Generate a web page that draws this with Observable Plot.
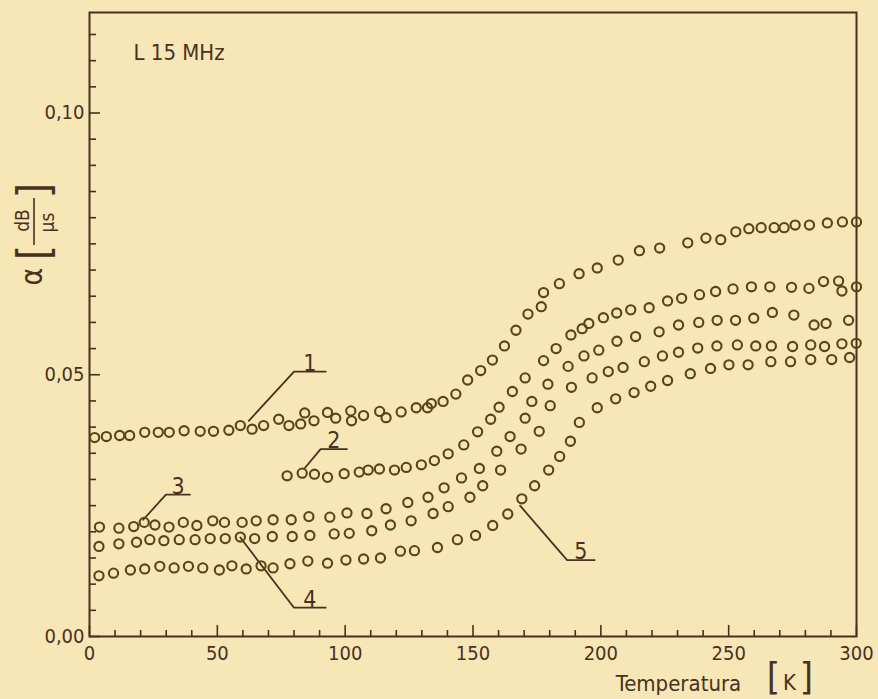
<!DOCTYPE html>
<html><head><meta charset="utf-8">
<script src="https://cdn.jsdelivr.net/npm/d3@7"></script>
<script src="https://cdn.jsdelivr.net/npm/@observablehq/plot@0.6"></script>
<style>
html,body{margin:0;padding:0;background:#f7e7b6;}
#chart svg{display:block;}
</style></head><body><div id="chart"></div>
<script>
// ---- data (temperature in K, attenuation alpha in dB/µs) ----
const s1T = [2.0,6.6,11.8,15.7,21.6,26.9,31.2,37.0,43.3,48.5,54.5,59.0,63.6,68.1,74.0,78.0,82.6,84.2,87.8,93.1,96.3,102.2,102.5,107.2,113.5,116.0,121.9,127.8,132.2,133.7,138.3,143.3,147.9,153.0,157.6,162.3,166.8,171.5,176.7,177.6,183.8,191.5,198.6,206.8,215.1,223.0,234.0,241.1,246.9,252.8,257.9,262.7,267.8,271.7,276.0,281.6,288.6,294.5,300.0];
const s1V = [0.0380,0.0382,0.0384,0.0384,0.0390,0.0390,0.0390,0.0393,0.0392,0.0392,0.0394,0.0403,0.0396,0.0403,0.0415,0.0403,0.0406,0.0427,0.0412,0.0428,0.0417,0.0431,0.0412,0.0422,0.0430,0.0418,0.0429,0.0437,0.0437,0.0445,0.0449,0.0463,0.0490,0.0508,0.0528,0.0555,0.0585,0.0616,0.0630,0.0657,0.0674,0.0693,0.0704,0.0719,0.0737,0.0742,0.0752,0.0761,0.0758,0.0773,0.0779,0.0781,0.0781,0.0781,0.0786,0.0786,0.0790,0.0792,0.0792];
const s2T = [77.3,83.2,88.0,93.1,99.6,105.5,109.0,113.4,119.3,123.9,129.8,134.9,140.3,146.4,151.8,156.9,160.2,165.4,170.4,177.6,182.5,188.3,192.7,195.3,201.0,206.2,211.7,218.9,226.1,231.6,238.6,244.9,251.7,258.9,266.1,274.6,281.4,287.1,293.0,294.3,300.0];
const s2V = [0.0307,0.0312,0.0310,0.0304,0.0311,0.0314,0.0318,0.0320,0.0318,0.0323,0.0328,0.0336,0.0349,0.0366,0.0391,0.0415,0.0438,0.0468,0.0494,0.0527,0.0550,0.0576,0.0588,0.0598,0.0609,0.0618,0.0624,0.0628,0.0641,0.0646,0.0653,0.0659,0.0664,0.0668,0.0668,0.0667,0.0665,0.0678,0.0679,0.0660,0.0668];
const s3T = [3.9,11.5,17.3,21.4,25.6,31.1,36.7,42.0,48.2,52.8,59.7,65.2,71.8,78.9,85.8,94.0,100.7,108.5,116.0,124.5,132.4,138.7,145.5,152.5,159.3,164.5,170.4,173.0,179.3,187.2,193.4,199.2,206.3,213.6,222.8,230.4,238.3,245.5,252.7,259.8,267.1,275.5,283.4,288.1,296.9];
const s3V = [0.0209,0.0207,0.0210,0.0218,0.0213,0.0209,0.0218,0.0212,0.0221,0.0218,0.0218,0.0221,0.0223,0.0223,0.0229,0.0228,0.0236,0.0235,0.0244,0.0256,0.0266,0.0284,0.0303,0.0321,0.0354,0.0382,0.0417,0.0449,0.0482,0.0516,0.0536,0.0547,0.0564,0.0573,0.0582,0.0595,0.0600,0.0604,0.0604,0.0608,0.0619,0.0614,0.0595,0.0598,0.0604];
const s4T = [3.7,11.5,18.4,23.6,29.1,35.1,41.3,47.2,53.1,59.0,64.6,71.5,79.3,86.2,95.7,101.6,110.4,117.7,125.8,134.4,140.3,148.8,153.8,160.8,168.8,175.9,180.2,188.5,196.6,202.9,208.7,217.0,224.1,230.4,237.9,245.4,253.4,260.6,266.7,275.0,282.1,287.5,294.3,299.9];
const s4V = [0.0172,0.0177,0.0180,0.0185,0.0183,0.0185,0.0185,0.0187,0.0187,0.0190,0.0187,0.0191,0.0191,0.0193,0.0196,0.0197,0.0202,0.0213,0.0221,0.0235,0.0248,0.0266,0.0288,0.0318,0.0358,0.0392,0.0441,0.0476,0.0494,0.0506,0.0514,0.0525,0.0536,0.0543,0.0551,0.0555,0.0557,0.0555,0.0555,0.0554,0.0557,0.0554,0.0559,0.0560];
const s5T = [3.7,9.4,16.0,21.6,27.5,33.1,38.7,44.3,50.8,55.7,61.3,67.1,71.8,78.4,85.4,93.1,100.3,107.2,113.8,121.6,127.1,136.1,143.9,151.0,157.7,163.6,169.1,174.1,179.6,183.9,188.1,191.6,198.6,205.8,213.0,219.5,226.1,235.0,242.9,250.1,257.6,266.5,274.2,282.1,290.3,297.3];
const s5V = [0.0116,0.0121,0.0127,0.0129,0.0134,0.0131,0.0134,0.0131,0.0127,0.0135,0.0129,0.0135,0.0131,0.0139,0.0144,0.0140,0.0146,0.0148,0.0150,0.0163,0.0164,0.0170,0.0185,0.0193,0.0212,0.0234,0.0263,0.0288,0.0318,0.0344,0.0373,0.0409,0.0437,0.0454,0.0466,0.0478,0.0489,0.0502,0.0512,0.0519,0.0519,0.0525,0.0525,0.0529,0.0529,0.0533];

// ---- curve labels: leader start (on curve), corner, end of underline ----
const labelNames   = ["1","2","3","4","5"];
const labelStartT  = [62.3, 83.9, 21.0, 59.0, 168.4];
const labelStartV  = [0.0412, 0.0320, 0.0223, 0.0189, 0.0250];
const labelCornerT = [80.0, 90.4, 29.9, 80.0, 186.8];
const labelCornerV = [0.0506, 0.0358, 0.0271, 0.0055, 0.0146];
const labelEndT    = [92.4, 100.7, 39.3, 92.4, 197.6];

// ---- ticks ----
const xMajorTicks = [0, 50, 100, 150, 200, 250, 300];
const xMinorTicks = [10,20,30,40,60,70,80,90,110,120,130,140,160,170,180,190,210,220,230,240,260,270,280,290];
const yMajorTicks = [0, 0.05, 0.10];
const yMinorTicks = [0.005,0.010,0.015,0.020,0.025,0.030,0.035,0.040,0.045,0.055,0.060,0.065,0.070,0.075,0.080,0.085,0.090,0.095,0.105,0.110,0.115];

const titleText = "L 15 MHz";
const xTitle = "Temperatura";
const xUnit = "K";

// ---- build tables ----
const seriesT = [s1T, s2T, s3T, s4T, s5T];
const seriesV = [s1V, s2V, s3V, s4V, s5V];
const points = [];
seriesT.forEach((ts, i) => ts.forEach((t, j) => points.push({series: labelNames[i], T: t, a: seriesV[i][j]})));
const leaders = [];
const labelPos = [];
labelNames.forEach((n, i) => {
  leaders.push({id: n, T: labelStartT[i], a: labelStartV[i]});
  leaders.push({id: n, T: labelCornerT[i], a: labelCornerV[i]});
  leaders.push({id: n, T: labelEndT[i], a: labelCornerV[i]});
  labelPos.push({id: n, T: (labelCornerT[i] + labelEndT[i]) / 2, a: labelCornerV[i]});
});

const W = 878, H = 699;
const mL = 89, mR = 22, mT = 12, mB = 63;
const fW = W - mL - mR, fH = H - mT - mB;
const ink = "#4a3020";
const dotInk = "#5a4416";
const font = "'DejaVu Sans Condensed', 'DejaVu Sans', sans-serif";

const chart = Plot.plot({
  width: W, height: H,
  marginLeft: mL, marginRight: mR, marginTop: mT, marginBottom: mB,
  x: {domain: [0, 300]},
  y: {domain: [0, 0.1192]},
  style: {background: "#f7e7b6", color: ink, fontFamily: font, fontSize: "19px"},
  marks: [
    Plot.frame({stroke: ink, strokeWidth: 2}),
    Plot.ruleX(xMinorTicks, {x: d => d, insetTop: fH - 6, stroke: ink, strokeWidth: 1.6}),
    Plot.ruleX(xMajorTicks, {x: d => d, insetTop: fH - 11, stroke: ink, strokeWidth: 1.6}),
    Plot.ruleY(yMinorTicks, {y: d => d, insetRight: fW - 7, stroke: ink, strokeWidth: 1.6}),
    Plot.ruleY(yMajorTicks, {y: d => d, insetRight: fW - 11, stroke: ink, strokeWidth: 1.6}),
    Plot.axisX({ticks: xMajorTicks, tickSize: 0, tickPadding: 9, label: null, fontSize: 20, fill: ink}),
    Plot.axisY({ticks: yMajorTicks, tickSize: 0, tickPadding: 5, label: null, fontSize: 20, fill: ink,
      tickFormat: d => d.toFixed(2).replace(".", ",")}),
    Plot.line(leaders, {x: "T", y: "a", z: "id", stroke: ink, strokeWidth: 1.8}),
    Plot.text(labelPos, {x: "T", y: "a", text: "id", lineAnchor: "bottom", dy: -1, fontSize: 23, fill: ink}),
    Plot.dot(points, {x: "T", y: "a", r: 4.6, stroke: dotInk, strokeWidth: 2.1, fill: "none"}),
    Plot.text([titleText], {frameAnchor: "top-left", dx: 44, dy: 40, textAnchor: "start", lineAnchor: "middle", fontSize: 22, fill: ink}),
    Plot.text([xTitle], {frameAnchor: "bottom-right", dx: -178, dy: 47, textAnchor: "middle", lineAnchor: "middle", fontSize: 22, fill: ink}),
    Plot.text(["["], {frameAnchor: "bottom-right", dx: -83, dy: 40, textAnchor: "middle", lineAnchor: "middle", fontSize: 38, fill: ink}),
    Plot.text([xUnit], {frameAnchor: "bottom-right", dx: -67, dy: 46, textAnchor: "middle", lineAnchor: "middle", fontSize: 22, fill: ink}),
    Plot.text(["]"], {frameAnchor: "bottom-right", dx: -50, dy: 40, textAnchor: "middle", lineAnchor: "middle", fontSize: 38, fill: ink}),
    Plot.text(["α"], {frameAnchor: "top-left", dx: -57, dy: 264, rotate: -90, textAnchor: "middle", lineAnchor: "middle", fontSize: 30, fill: ink}),
    Plot.text(["["], {frameAnchor: "top-left", dx: -55, dy: 240, rotate: -90, textAnchor: "middle", lineAnchor: "middle", fontSize: 44, fill: ink}),
    Plot.text(["]"], {frameAnchor: "top-left", dx: -55, dy: 178, rotate: -90, textAnchor: "middle", lineAnchor: "middle", fontSize: 44, fill: ink}),
    Plot.text(["dB"], {frameAnchor: "top-left", dx: -67, dy: 208, rotate: -90, textAnchor: "middle", lineAnchor: "middle", fontSize: 19, fill: ink}),
    Plot.text(["µs"], {frameAnchor: "top-left", dx: -42, dy: 210, rotate: -90, textAnchor: "middle", lineAnchor: "middle", fontSize: 19, fill: ink})
  ]
});
// fraction bar of the y-axis unit
d3.select(chart).append("line")
  .attr("x1", mL - 55).attr("x2", mL - 55)
  .attr("y1", mT + 186).attr("y2", mT + 233)
  .attr("stroke", ink).attr("stroke-width", 1.6);
document.getElementById("chart").append(chart);
</script>
</body></html>
